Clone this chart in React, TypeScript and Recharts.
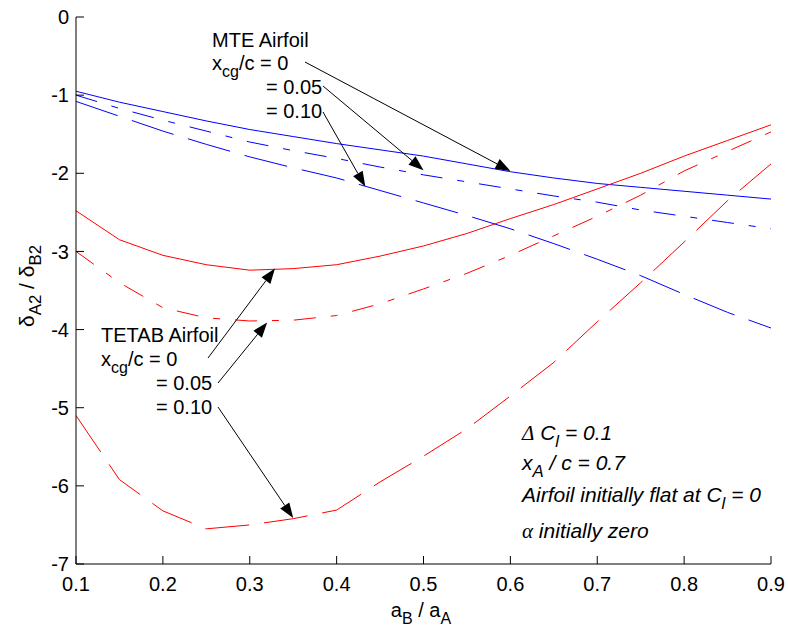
import React from "react";
import { LineChart, Line, XAxis, YAxis } from "recharts";

// Span ratio a_B / a_A
const spanRatio = [0.1, 0.15, 0.2, 0.25, 0.3, 0.35, 0.4, 0.45, 0.5, 0.55, 0.6, 0.65, 0.7, 0.75, 0.8, 0.85, 0.9];

// MTE airfoil, x_cg/c = 0, 0.05, 0.10
const mte00 = [-0.95, -1.09, -1.21, -1.33, -1.44, -1.53, -1.62, -1.7, -1.78, -1.88, -1.98, -2.06, -2.13, -2.18, -2.23, -2.28, -2.33];
const mte05 = [-1.0, -1.17, -1.32, -1.46, -1.6, -1.71, -1.81, -1.92, -2.02, -2.11, -2.2, -2.29, -2.37, -2.47, -2.55, -2.63, -2.71];
const mte10 = [-1.08, -1.27, -1.46, -1.63, -1.79, -1.93, -2.06, -2.22, -2.38, -2.54, -2.71, -2.9, -3.1, -3.31, -3.55, -3.78, -3.98];

// TETAB airfoil, x_cg/c = 0, 0.05, 0.10
const tetab00 = [-2.48, -2.85, -3.05, -3.17, -3.24, -3.22, -3.17, -3.06, -2.93, -2.77, -2.58, -2.4, -2.2, -2.0, -1.78, -1.58, -1.38];
const tetab05 = [-3.0, -3.4, -3.72, -3.85, -3.89, -3.88, -3.82, -3.67, -3.48, -3.28, -3.05, -2.8, -2.55, -2.28, -1.97, -1.72, -1.47];
const tetab10 = [-5.1, -5.92, -6.32, -6.55, -6.5, -6.42, -6.31, -5.95, -5.62, -5.27, -4.85, -4.42, -3.9, -3.4, -2.88, -2.35, -1.88];

const xTicks = [0.1, 0.2, 0.3, 0.4, 0.5, 0.6, 0.7, 0.8, 0.9];
const yTicks = [-7, -6, -5, -4, -3, -2, -1, 0];

const data = spanRatio.map((x, i) => ({
  x,
  mte00: mte00[i],
  mte05: mte05[i],
  mte10: mte10[i],
  tetab00: tetab00[i],
  tetab05: tetab05[i],
  tetab10: tetab10[i],
}));

const W = 788;
const H = 633;
const PLOT = { left: 76, top: 17, right: 771, bottom: 564 };
const X_DOMAIN: [number, number] = [0.1, 0.9];
const Y_DOMAIN: [number, number] = [-7, 0];

const Y_AXIS_W = 60;
const X_AXIS_H = 40;

const FONT = "'Liberation Sans', Arial, Helvetica, sans-serif";
const FS = 20;
const FS_NOTE = 21;

const DASH_DOT = "22 15 7 15";
const LONG_DASH = "44 15";

// data -> pixel, same frame as the chart's plot area
const px = (x: number) => PLOT.left + ((x - X_DOMAIN[0]) / (X_DOMAIN[1] - X_DOMAIN[0])) * (PLOT.right - PLOT.left);
const py = (y: number) => PLOT.top + ((Y_DOMAIN[1] - y) / (Y_DOMAIN[1] - Y_DOMAIN[0])) * (PLOT.bottom - PLOT.top);

type ArrowSpec = { from: [number, number]; to: [number, number] };

// tails are in pixels (next to the text), heads point at data positions
const arrows: ArrowSpec[] = [
  { from: [305, 62], to: [0.6, -1.97] },
  { from: [323, 86], to: [0.5, -1.96] },
  { from: [323, 112], to: [0.433, -2.17] },
  { from: [208, 358], to: [0.329, -3.22] },
  { from: [218, 383], to: [0.32, -3.91] },
  { from: [218, 407], to: [0.35, -6.41] },
];

function Arrow({ spec }: { spec: ArrowSpec }) {
  const [x0, y0] = spec.from;
  const x1 = px(spec.to[0]);
  const y1 = py(spec.to[1]);
  const dx = x1 - x0;
  const dy = y1 - y0;
  const len = Math.hypot(dx, dy);
  const ux = dx / len;
  const uy = dy / len;
  const headL = 15;
  const headW = 5.5;
  const bx = x1 - ux * headL;
  const by = y1 - uy * headL;
  const pts = `${x1},${y1} ${bx - uy * headW},${by + ux * headW} ${bx + uy * headW},${by - ux * headW}`;
  return (
    <g>
      <line x1={x0} y1={y0} x2={bx} y2={by} stroke="#000" strokeWidth={1} />
      <polygon points={pts} fill="#000" />
    </g>
  );
}

const SUB_DY = 7;
const Sub = ({ children, size = FS }: { children: React.ReactNode; size?: number }) => (
  <tspan fontSize={size * 0.8} dy={SUB_DY}>
    {children}
  </tspan>
);
const Up = ({ children }: { children: React.ReactNode }) => <tspan dy={-SUB_DY}>{children}</tspan>;

function Annotations() {
  return (
    <svg
      width={W}
      height={H}
      style={{ position: "absolute", left: 0, top: 0, pointerEvents: "none" }}
      fontFamily={FONT}
      fontSize={FS}
    >
      {/* MTE group */}
      <text x={212} y={47}>MTE Airfoil</text>
      <text x={212} y={70}>
        x<Sub>cg</Sub>
        <Up>/c = 0</Up>
      </text>
      <text x={266} y={94}>= 0.05</text>
      <text x={266} y={118}>= 0.10</text>

      {/* TETAB group */}
      <text x={101} y={342}>TETAB Airfoil</text>
      <text x={101} y={366}>
        x<Sub>cg</Sub>
        <Up>/c = 0</Up>
      </text>
      <text x={156} y={390}>= 0.05</text>
      <text x={156} y={414}>= 0.10</text>

      {arrows.map((a, i) => (
        <Arrow key={i} spec={a} />
      ))}

      {/* test conditions */}
      <g fontStyle="italic" fontSize={FS_NOTE}>
        <text x={522} y={440}>
          <tspan fontFamily="'Liberation Serif', serif">Δ</tspan> C<Sub size={FS_NOTE}>l</Sub>
          <Up> = 0.1</Up>
        </text>
        <text x={522} y={470}>
          x<Sub size={FS_NOTE}>A</Sub>
          <Up> / c = 0.7</Up>
        </text>
        <text x={522} y={502}>
          Airfoil initially flat at C<Sub size={FS_NOTE}>l</Sub>
          <Up> = 0</Up>
        </text>
        <text x={522} y={538}>
          <tspan fontFamily="'Liberation Serif', serif">α</tspan> initially zero
        </text>
      </g>

      {/* axis titles */}
      <text x={421} y={617} textAnchor="middle">
        a<Sub>B</Sub>
        <Up> / a</Up>
        <Sub>A</Sub>
      </text>
      <text transform="translate(34,286) rotate(-90)" textAnchor="middle" fontSize={21}>
        δ<Sub size={21}>A2</Sub>
        <Up> / δ</Up>
        <Sub size={21}>B2</Sub>
      </text>
    </svg>
  );
}

const noTick = () => <g />;

export default function App() {
  const tickStyle = { fontFamily: FONT, fontSize: FS, fill: "#000" };
  return (
    <div style={{ position: "absolute", left: 0, top: 0, width: W, height: H, background: "#fff" }}>
      <LineChart
        width={W}
        height={H}
        data={data}
        margin={{
          top: PLOT.top,
          right: W - PLOT.right,
          bottom: H - PLOT.bottom - X_AXIS_H,
          left: PLOT.left - Y_AXIS_W,
        }}
      >
        <XAxis
          dataKey="x"
          type="number"
          domain={X_DOMAIN}
          ticks={xTicks}
          tickFormatter={(v: number) => v.toFixed(1)}
          height={X_AXIS_H}
          tickSize={-8}
          tickMargin={21}
          interval={0}
          allowDataOverflow
          stroke="#000"
          tick={tickStyle}
        />
        <XAxis
          xAxisId="top"
          orientation="top"
          dataKey="x"
          type="number"
          domain={X_DOMAIN}
          ticks={xTicks}
          height={0}
          tickSize={-8}
          interval={0}
          allowDataOverflow
          stroke="#000"
          tick={noTick}
        />
        <YAxis
          type="number"
          domain={Y_DOMAIN}
          ticks={yTicks}
          width={Y_AXIS_W}
          tickSize={-8}
          tickMargin={15}
          interval={0}
          allowDataOverflow
          stroke="#000"
          tick={tickStyle}
        />
        <YAxis
          yAxisId="right"
          orientation="right"
          type="number"
          domain={Y_DOMAIN}
          ticks={yTicks}
          width={0}
          tickSize={-8}
          interval={0}
          allowDataOverflow
          stroke="#000"
          tick={noTick}
        />
        <Line dataKey="mte00" stroke="#0000ff" strokeWidth={1} dot={false} isAnimationActive={false} type="linear" />
        <Line dataKey="mte05" stroke="#0000ff" strokeWidth={1} strokeDasharray={DASH_DOT} dot={false} isAnimationActive={false} type="linear" />
        <Line dataKey="mte10" stroke="#0000ff" strokeWidth={1} strokeDasharray={LONG_DASH} dot={false} isAnimationActive={false} type="linear" />
        <Line dataKey="tetab00" stroke="#ff0000" strokeWidth={1} dot={false} isAnimationActive={false} type="linear" />
        <Line dataKey="tetab05" stroke="#ff0000" strokeWidth={1} strokeDasharray={DASH_DOT} dot={false} isAnimationActive={false} type="linear" />
        <Line dataKey="tetab10" stroke="#ff0000" strokeWidth={1} strokeDasharray={LONG_DASH} dot={false} isAnimationActive={false} type="linear" />
      </LineChart>
      <Annotations />
    </div>
  );
}
